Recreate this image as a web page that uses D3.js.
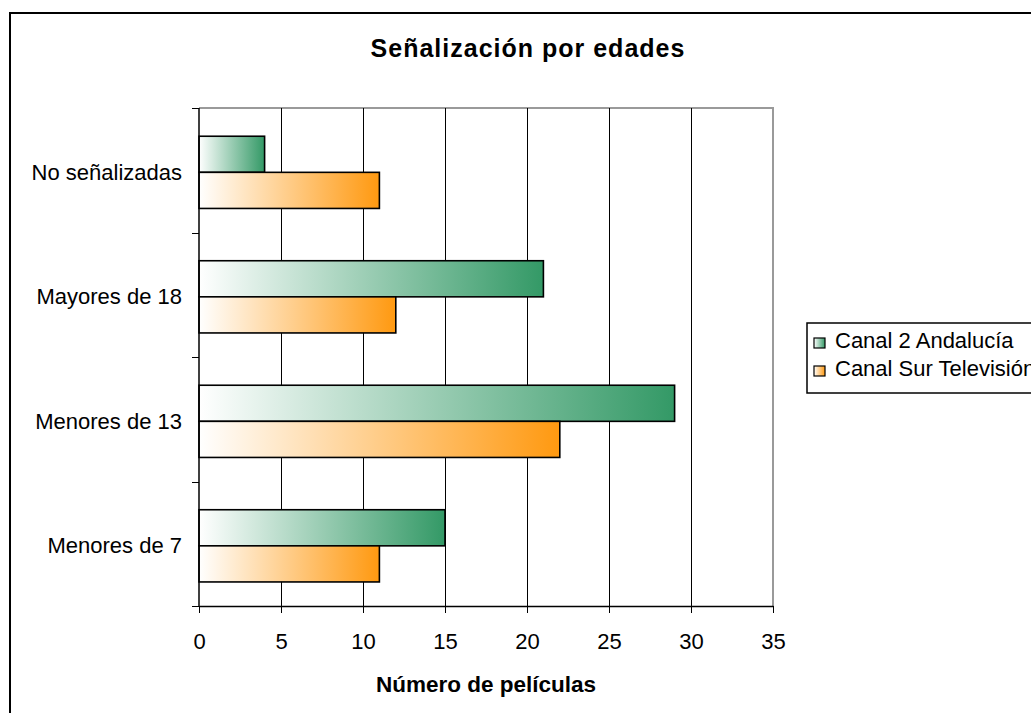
<!DOCTYPE html>
<html>
<head>
<meta charset="utf-8">
<script src="https://cdn.jsdelivr.net/npm/d3@7"></script>
<style>
  body { margin: 0; background: #fff; }
  text { font-family: "Liberation Sans", Arial, sans-serif; fill: #000; }
</style>
</head>
<body>
<script>
var categories = ["No señalizadas", "Mayores de 18", "Menores de 13", "Menores de 7"],
    seriesNames = ["Canal 2 Andalucía", "Canal Sur Televisión"],
    canal2 = [4, 21, 29, 15],
    canalSur = [11, 12, 22, 11],
    xTicks = [0, 5, 10, 15, 20, 25, 30, 35];

var width = 1031,
    height = 713,
    plotLeft = 199,
    plotRight = 773,
    plotTop = 108,
    plotBottom = 606,
    colors = ["#339966", "#ff9910"];

var x = d3.scaleLinear().domain([0, 35]).range([plotLeft, plotRight]),
    y = d3.scaleBand().domain(categories).range([plotTop, plotBottom])
            .paddingInner(0.42).paddingOuter(0.21).align(0.54),
    ySub = d3.scaleBand().domain([0, 1]).range([0, y.bandwidth()]);

var svg = d3.select("body")
    .append("svg")
        .attr("width", width)
        .attr("height", height);

// gradients, white on the left to full colour at the bar end
var defs = svg.append("defs");
colors.forEach(function(c, i) {
    var g = defs.append("linearGradient")
        .attr("id", "grad" + i)
        .attr("x1", "0%").attr("x2", "100%")
        .attr("y1", "0%").attr("y2", "0%");
    g.append("stop").attr("offset", "0%").attr("stop-color", "#ffffff");
    g.append("stop").attr("offset", "100%").attr("stop-color", c);
});

// outer frame
svg.append("rect")
    .attr("x", 10).attr("y", 13)
    .attr("width", 1040).attr("height", 720)
    .attr("fill", "none")
    .attr("stroke", "#000")
    .attr("stroke-width", 2);

// title
svg.append("text")
    .attr("x", 528).attr("y", 57)
    .attr("text-anchor", "middle")
    .style("font-size", "25px")
    .style("font-weight", "bold")
    .style("letter-spacing", "1px")
    .text("Señalización por edades");

// plot frame top / right
svg.append("path")
    .attr("d", "M" + plotLeft + "," + plotTop + "H" + plotRight + "V" + plotBottom)
    .attr("fill", "none")
    .attr("stroke", "#9a9a9a")
    .attr("stroke-width", 2);

// gridlines
svg.append("g")
    .selectAll("line")
    .data(xTicks.slice(1, -1))
    .enter()
    .append("line")
    .attr("x1", function(d) { return Math.round(x(d)) + 0.5; })
    .attr("x2", function(d) { return Math.round(x(d)) + 0.5; })
    .attr("y1", plotTop)
    .attr("y2", plotBottom)
    .attr("stroke", "#000");

// bars
var series = [canal2, canalSur];
var groups = svg.append("g")
    .selectAll("g")
    .data(categories)
    .enter()
    .append("g")
    .attr("transform", function(d) { return "translate(0," + y(d) + ")"; });

groups.selectAll("rect")
    .data(function(d, i) { return series.map(function(s, k) { return { k: k, v: s[i] }; }); })
    .enter()
    .append("rect")
    .attr("x", x(0))
    .attr("y", function(d) { return ySub(d.k); })
    .attr("width", function(d) { return x(d.v) - x(0); })
    .attr("height", ySub.bandwidth())
    .attr("fill", function(d) { return "url(#grad" + d.k + ")"; })
    .attr("stroke", "#000")
    .attr("stroke-width", 1.6);

// x axis
var xAxis = svg.append("g")
    .attr("transform", "translate(0," + plotBottom + ")")
    .call(d3.axisBottom(x).tickValues(xTicks).tickSizeInner(7).tickSizeOuter(0).tickPadding(20));
xAxis.select(".domain").attr("stroke", "#000").attr("stroke-width", 1.5);
xAxis.selectAll("text")
    .style("font-size", "22px")
    .style("font-family", "'Liberation Sans', Arial, sans-serif");

// y axis: ticks between the categories
var yAxis = svg.append("g")
    .attr("transform", "translate(" + plotLeft + ",0)");
yAxis.append("line")
    .attr("x1", 0).attr("x2", 0)
    .attr("y1", plotTop).attr("y2", plotBottom + 1)
    .attr("stroke", "#000").attr("stroke-width", 1.5);
var bounds = d3.range(categories.length + 1).map(function(i) { return plotTop + i * y.step(); });
yAxis.selectAll(".tick")
    .data(bounds)
    .enter()
    .append("line")
    .attr("x1", -7).attr("x2", 0)
    .attr("y1", function(d) { return Math.round(d) + 0.5; })
    .attr("y2", function(d) { return Math.round(d) + 0.5; })
    .attr("stroke", "#000");
yAxis.selectAll("text")
    .data(categories)
    .enter()
    .append("text")
    .attr("x", -17)
    .attr("y", function(d) { return y(d) + y.bandwidth() / 2; })
    .attr("dy", "0.34em")
    .attr("text-anchor", "end")
    .style("font-size", "22px")
    .text(function(d) { return d; });

// axis title
svg.append("text")
    .attr("x", (plotLeft + plotRight) / 2).attr("y", 692)
    .attr("text-anchor", "middle")
    .style("font-size", "22.5px")
    .style("font-weight", "bold")
    .text("Número de películas");

// legend
var legend = svg.append("g").attr("transform", "translate(807,323)");
legend.append("rect")
    .attr("x", 0).attr("y", 0)
    .attr("width", 260).attr("height", 70)
    .attr("fill", "#fff")
    .attr("stroke", "#000")
    .attr("stroke-width", 1.5);
var items = legend.selectAll(".item")
    .data(seriesNames)
    .enter()
    .append("g")
    .attr("transform", function(d, i) { return "translate(0," + (25 + i * 28) + ")"; });
items.append("rect")
    .attr("x", 7).attr("y", -10)
    .attr("width", 11).attr("height", 10)
    .attr("fill", function(d, i) { return "url(#grad" + i + ")"; })
    .attr("stroke", "#000")
    .attr("stroke-width", 1.2);
items.append("text")
    .attr("x", 28).attr("y", 0)
    .style("font-size", "22px")
    .text(function(d) { return d; });
</script>
</body>
</html>
